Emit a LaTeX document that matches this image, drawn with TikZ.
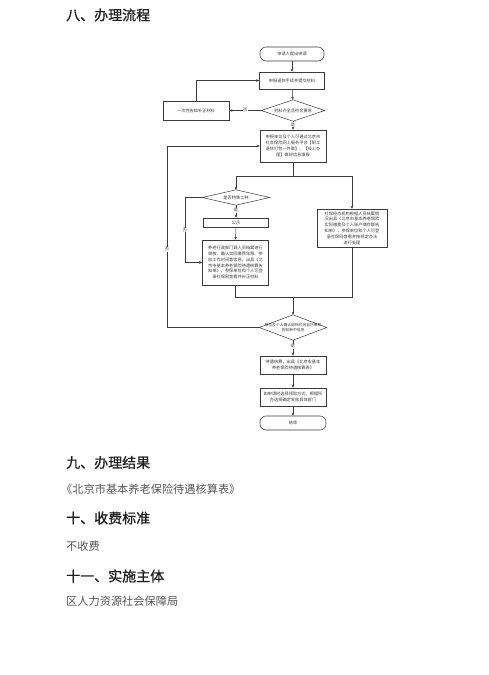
\documentclass[tikz,border=0pt]{standalone}
\usepackage{fontspec}
\setmainfont{Noto Sans CJK SC}
\newfontfamily\headfont{Noto Sans CJK SC}[FakeBold=0.7]
\usetikzlibrary{arrows.meta,calc}
\definecolor{ln}{HTML}{3A3A3A}
\definecolor{hd}{HTML}{1E1E1E}
\definecolor{bd}{HTML}{555555}
\tikzset{
  arr/.style={draw=ln,line width=0.5pt,-{Stealth[length=3pt,width=2.6pt]}},
  lnk/.style={draw=ln,line width=0.5pt},
  box/.style={draw=ln,line width=0.55pt,rectangle,inner sep=0.5pt,align=center,text=ln,
    font=\fontsize{4.2}{5.8}\selectfont},
  term/.style={box,rounded corners=6pt},
  dia/.style={rectangle,inner sep=0pt,align=center,text=ln,font=\fontsize{4.2}{5.8}\selectfont},
  lbl/.style={fill=white,inner sep=0.6pt,text=ln,font=\fontsize{4.2}{5}\selectfont},
  head/.style={anchor=west,text=hd,font=\headfont\fontsize{14}{16}\selectfont,inner sep=0pt},
  body/.style={anchor=west,text=bd,font=\fontsize{11.2}{13}\selectfont,inner sep=0pt}
}
\begin{document}
\begin{tikzpicture}[x=1pt,y=-1pt]
\useasboundingbox[fill=white] (0,0) rectangle (489,675);
% headings and text
\node[head] (h8) at (66,15) {八、办理流程};
\node[head] (h9) at (66,462.5) {九、办理结果};
\node[body] (t9) at (61,489) {《北京市基本养老保险待遇核算表》};
\node[head] (h10) at (66,518) {十、收费标准};
\node[body] (t10) at (66,546.5) {不收费};
\node[head] (h11) at (66,576) {十一、实施主体};
\node[body] (t11) at (66,601.5) {区人力资源社会保障局};
% flowchart nodes
\node[term,minimum width=64pt,minimum height=14pt] (n1) at (292,54) {申请人提出申请};
\node[box,minimum width=65pt,minimum height=17pt] (n2) at (292,80.5) {申报退休手续并提交材料};
\node[dia,minimum width=63pt,minimum height=21pt] (d3) at (293,110.5) {材料齐全且符合要求};
\draw[lnk] (d3.north)--(d3.east)--(d3.south)--(d3.west)--cycle;
\node[box,minimum width=66pt,minimum height=19pt] (n4) at (196,110.5) {一次性告知补正材料};
\node[box,minimum width=66pt,minimum height=32pt] (n6) at (293,146) {申报单位及个人可通过北京市\\社会保险网上服务平台【职工\\退休打包一件事】、【线上办\\理】做好信息填报};
\node[dia,minimum width=67pt,minimum height=15pt] (d7) at (236,197.5) {是否特殊工种};
\draw[lnk] (d7.north)--(d7.east)--(d7.south)--(d7.west)--cycle;
\node[box,minimum width=65pt,minimum height=9pt] (n8) at (236,222.5) {公示};
\node[box,minimum width=66pt,minimum height=45pt] (n9) at (235.5,262.5) {养老行政部门调人员档案进行\\审核，确认实际缴费年限、参\\加工作时间等信息，出具《北\\京市基本养老保险待遇核算告\\知单》，参保单位和个人可登\\录社保网查看并补正材料};
\node[box,minimum width=70pt,minimum height=38pt] (n10) at (352,228) {社保经办机构根据人员档案情\\况出具《北京市基本养老保险\\实际缴费及个人账户储存额告\\知单》，参保单位和个人可登\\录社保网查看并按规定办法\\进行处理};
\node[dia,minimum width=67pt,minimum height=25pt,font=\fontsize{3.8}{5.2}\selectfont] (d11) at (293,327.5) {单位及个人确认退休时间且已审核\\告知单中信息};
\draw[lnk] (d11.north)--(d11.east)--(d11.south)--(d11.west)--cycle;
\node[box,minimum width=66pt,minimum height=18pt] (n12) at (293,365) {待遇核算，出具《北京市基本\\养老保险待遇核算表》};
\node[box,minimum width=66pt,minimum height=18pt] (n13) at (293,397) {如申请时选择领取方式，根据所\\办选择确定发放具体部门};
\node[term,minimum width=66pt,minimum height=14pt] (n14) at (293,423) {结束};
% coordinates
\coordinate (sp) at (293,176);
\coordinate (mg) at (293,297.5);
\coordinate (lpA) at (185,0);
\coordinate (lpB) at (167,0);
% connectors
\draw[arr] (n1) -- (n2);
\draw[arr] (n2) -- (d3);
\draw[arr] (d3.west) -- node[lbl] {否} (n4.east);
\draw[arr] (n4.north) |- (n2.west);
\draw[arr] (d3.south) -- node[lbl,pos=0.4] {是} (n6.north);
\draw[lnk] (n6.south) -- (sp);
\draw[arr] (sp) -| (d7.north);
\draw[arr] (sp) -| (n10.north);
\draw[arr] (d7.south) -- node[lbl,pos=0.4] {是} (n8.north);
\draw[arr] (n8.south) -- (n9.north);
\draw[arr] (d7.west) -- (d7.west -| lpA) -- node[lbl] {否} (n9.west -| lpA) -- (n9.west);
\draw[lnk] (n9.south) |- (mg);
\draw[lnk] (n10.south) |- (mg);
\draw[arr] (mg) -- (d11.north);
\draw[arr] (d11.west) -- (d11.west -| lpB) -- node[lbl,pos=0.43] {否} (n6.west -| lpB) -- (n6.west);
\draw[arr] (d11.south) -- node[lbl,pos=0.4] {是} (n12.north);
\draw[arr] (n12) -- (n13);
\draw[arr] (n13) -- (n14);
\end{tikzpicture}
\end{document}
